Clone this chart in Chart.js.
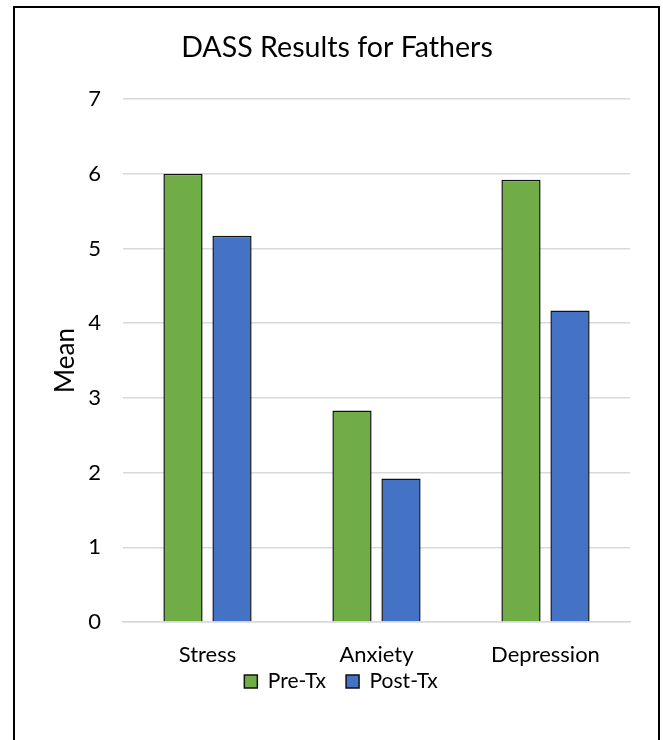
<!DOCTYPE html>
<html>
<head>
<meta charset="utf-8">
<script src="https://cdn.jsdelivr.net/npm/chart.js@4/dist/chart.umd.min.js"></script>
<style>
  html, body { margin: 0; padding: 0; background: #ffffff; }
  #wrap { position: relative; width: 663px; height: 740px; }
</style>
</head>
<body>
<div id="wrap"><canvas id="c" width="663" height="740"></canvas></div>
<script>
// DASS subscale means for fathers, before and after treatment
const categories = ['Stress', 'Anxiety', 'Depression'];
const preTx = [6.00, 2.83, 5.92];
const postTx = [5.17, 1.92, 4.17];
const seriesNames = ['Pre-Tx', 'Post-Tx'];
const yTicks = [0, 1, 2, 3, 4, 5, 6, 7];

const FONT = 'Lato, "Open Sans", sans-serif';

// outer frame around the whole chart
const framePlugin = {
  id: 'frame',
  afterDraw(chart) {
    const ctx = chart.ctx;
    ctx.save();
    ctx.strokeStyle = '#000000';
    ctx.lineWidth = 2;
    ctx.strokeRect(14, 7, 645, 745);
    ctx.restore();
  }
};

// pull the legend up so it sits right under the category labels
const legendLift = {
  id: 'legendLift',
  afterLayout(chart) {
    const lg = chart.legend;
    if (lg) { lg.top -= 19; lg.bottom -= 19; lg.left += 4; lg.right += 4; }
  }
};

new Chart(document.getElementById('c'), {
  type: 'bar',
  data: {
    labels: categories,
    datasets: [
      { label: seriesNames[0], data: preTx, backgroundColor: '#70AD47', borderColor: '#111111', borderWidth: 1.5 },
      { label: seriesNames[1], data: postTx, backgroundColor: '#4472C4', borderColor: '#111111', borderWidth: 1.5 }
    ]
  },
  options: {
    responsive: false,
    animation: false,
    devicePixelRatio: 1,
    categoryPercentage: 0.58,
    barPercentage: 0.8,
    layout: { padding: { left: 44, right: 33, top: 20, bottom: 19 } },
    plugins: {
      title: {
        display: true,
        text: 'DASS Results for Fathers',
        color: '#000000',
        font: { family: FONT, size: 28.6, weight: 'normal' },
        padding: { top: 10.8, bottom: 33.9 }
      },
      legend: {
        display: true,
        position: 'bottom',
        labels: {
          color: '#000000',
          font: { family: FONT, size: 21 },
          boxWidth: 13,
          boxHeight: 13,
          padding: 20
        }
      },
      tooltip: { enabled: false }
    },
    scales: {
      x: {
        grid: { display: false, drawTicks: false },
        border: { display: true, color: '#d9d9d9', width: 1.5 },
        ticks: { color: '#000000', font: { family: FONT, size: 22 }, padding: 20 },
        afterFit(s) { s.height = 48; }
      },
      y: {
        min: 0,
        max: 7,
        afterBuildTicks(s) { s.ticks = yTicks.map(v => ({ value: v })); },
        grid: { color: '#d9d9d9', lineWidth: 1.5, drawTicks: false },
        border: { display: false },
        ticks: { color: '#000000', font: { family: FONT, size: 22 }, padding: 22 },
        title: {
          display: true,
          text: 'Mean',
          color: '#000000',
          font: { family: FONT, size: 26 },
          padding: { top: 6, bottom: 0 }
        },
        afterFit(s) { s.width = 79; }
      }
    }
  },
  plugins: [framePlugin, legendLift]
});
</script>
</body>
</html>
